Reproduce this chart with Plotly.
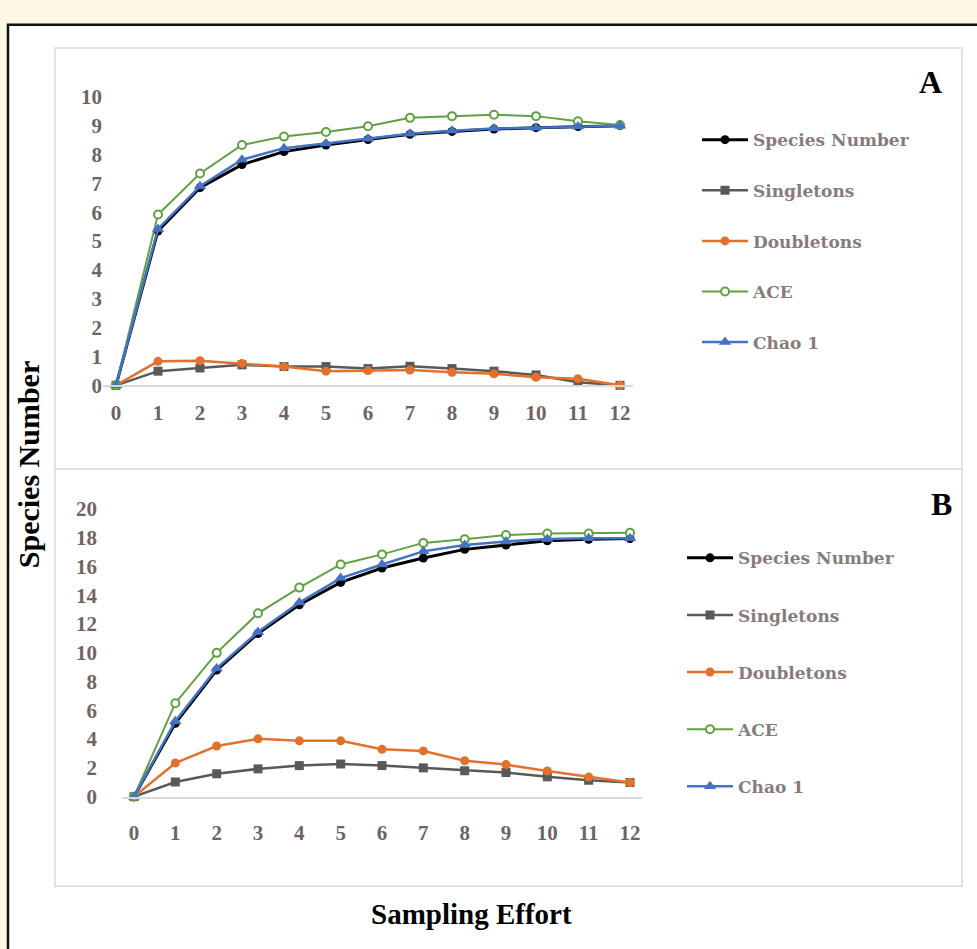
import plotly.graph_objects as go

W, H = 977, 949

effort = list(range(13))
tick_labels = [str(i) for i in effort]

series_names = ["Species Number", "Singletons", "Doubletons", "ACE", "Chao 1"]

# Panel A
a_species = [0, 5.35, 6.85, 7.65, 8.1, 8.33, 8.52, 8.7, 8.8, 8.88, 8.93, 8.97, 9.0]
a_single = [0, 0.49, 0.6, 0.71, 0.65, 0.65, 0.58, 0.66, 0.58, 0.49, 0.36, 0.11, 0]
a_double = [0, 0.83, 0.85, 0.76, 0.65, 0.49, 0.51, 0.53, 0.45, 0.4, 0.28, 0.23, 0]
a_ace = [0, 5.92, 7.34, 8.33, 8.62, 8.78, 8.98, 9.27, 9.33, 9.38, 9.33, 9.15, 9.02]
a_chao = [0, 5.42, 6.9, 7.82, 8.22, 8.38, 8.55, 8.72, 8.82, 8.9, 8.93, 8.97, 9.0]

# Panel B
b_species = [0, 5.1, 8.8, 11.35, 13.35, 14.9, 15.9, 16.6, 17.2, 17.5, 17.8, 17.9, 17.95]
b_single = [0, 1.02, 1.59, 1.93, 2.16, 2.27, 2.16, 2.0, 1.8, 1.68, 1.38, 1.14, 0.98]
b_double = [0, 2.34, 3.52, 4.02, 3.88, 3.88, 3.3, 3.18, 2.5, 2.23, 1.78, 1.36, 0.98]
b_ace = [0, 6.5, 10.0, 12.75, 14.54, 16.15, 16.85, 17.65, 17.9, 18.2, 18.3, 18.3, 18.35]
b_chao = [0, 5.25, 8.92, 11.45, 13.5, 15.2, 16.15, 17.06, 17.5, 17.75, 17.92, 17.98, 17.98]

panel_a = [a_species, a_single, a_double, a_ace, a_chao]
panel_b = [b_species, b_single, b_double, b_ace, b_chao]

styles = [
    dict(line=dict(color="#000000", width=3), marker=dict(symbol="circle", size=9, color="#000000")),
    dict(line=dict(color="#595959", width=2.5), marker=dict(symbol="square", size=9, color="#595959")),
    dict(line=dict(color="#E2712B", width=2.5), marker=dict(symbol="circle", size=9, color="#E2712B")),
    dict(line=dict(color="#62A044", width=2), marker=dict(symbol="circle", size=8, color="#FFFFFF",
                                                         line=dict(color="#62A044", width=2))),
    dict(line=dict(color="#4472C4", width=2.5), marker=dict(symbol="triangle-up", size=11, color="#4472C4")),
]


def px(p):
    return p / W


def py(p):
    return 1 - p / H


fig = go.Figure()

for panel, (xa, ya, leg) in zip([panel_a, panel_b], [("x", "y", "legend"), ("x2", "y2", "legend2")]):
    for i, (name, vals) in enumerate(zip(series_names, panel)):
        fig.add_trace(go.Scatter(
            x=effort, y=vals, name=name, mode="lines+markers",
            xaxis=xa, yaxis=ya, legend=leg, legendgroup=f"{leg}{i}",
            cliponaxis=False, **styles[i]))

tick_font = dict(family="Liberation Serif", size=21, color="#6f6363", weight="bold")
leg_font = dict(family="DejaVu Serif", size=17, color="#877b7b", weight="bold")

# Panel A geometry (pixels)
ax0, ax12, ay0, ay10 = 116, 620, 383, 87
ua = (ax12 - ax0) / 12
# Panel B geometry
bx0, bx12, by0, by20 = 134, 630, 805, 510
ub = (bx12 - bx0) / 12
pad = 0.3

fig.update_layout(
    width=W, height=H,
    margin=dict(l=0, r=0, t=0, b=0),
    paper_bgcolor="#FFF7E3",
    plot_bgcolor="rgba(0,0,0,0)",
    showlegend=True,
    xaxis=dict(domain=[px(ax0 - pad * ua), px(ax12 + pad * ua)], range=[-pad, 12 + pad],
               anchor="y", tickvals=effort, ticktext=tick_labels, showgrid=False, zeroline=False,
               showline=True, linecolor="#D9D9D9", linewidth=1.5, ticks="", ticklabelstandoff=8,
               tickfont=tick_font),
    yaxis=dict(domain=[py(ay0), py(ay10)], range=[0, 10], dtick=1, anchor="free", position=px(102),
               showgrid=False, zeroline=False, showline=False, ticks="", tickfont=tick_font),
    xaxis2=dict(domain=[px(bx0 - pad * ub), px(bx12 + pad * ub)], range=[-pad, 12 + pad],
                anchor="y2", tickvals=effort, ticktext=tick_labels, showgrid=False, zeroline=False,
                showline=True, linecolor="#D9D9D9", linewidth=1.5, ticks="", ticklabelstandoff=16,
                tickfont=tick_font),
    yaxis2=dict(domain=[py(by0), py(by20)], range=[0, 20], dtick=2, anchor="free", position=px(97),
                showgrid=False, zeroline=False, showline=False, ticks="", tickfont=tick_font),
    legend=dict(x=px(697), y=py(113), xanchor="left", yanchor="top", bgcolor="rgba(0,0,0,0)",
                font=leg_font, tracegroupgap=25.5, itemwidth=46),
    legend2=dict(x=px(682), y=py(542), xanchor="left", yanchor="top", bgcolor="rgba(0,0,0,0)",
                 font=leg_font, tracegroupgap=32, itemwidth=46),
    shapes=[
        dict(type="rect", xref="paper", yref="paper", x0=px(8), x1=px(1200), y0=py(1200), y1=py(13),
             line=dict(color="#111111", width=2.5), fillcolor="#FFFFFF", layer="below"),
        dict(type="rect", xref="paper", yref="paper", x0=px(55), x1=px(962), y0=py(469), y1=py(37),
             line=dict(color="#DADADA", width=1.5), layer="below"),
        dict(type="rect", xref="paper", yref="paper", x0=px(55), x1=px(962), y0=py(897), y1=py(469),
             line=dict(color="#DADADA", width=1.5), layer="below"),
    ],
    annotations=[
        dict(text="<b>A</b>", x=px(930), y=py(72), xref="paper", yref="paper", showarrow=False,
             xanchor="center", yanchor="middle",
             font=dict(family="Liberation Serif", size=32, color="#000000")),
        dict(text="<b>B</b>", x=px(941), y=py(505), xref="paper", yref="paper", showarrow=False,
             xanchor="center", yanchor="middle",
             font=dict(family="Liberation Serif", size=32, color="#000000")),
        dict(text="<b>Species Number</b>", x=px(28), y=py(465), xref="paper", yref="paper",
             showarrow=False, textangle=-90, xanchor="center", yanchor="middle",
             font=dict(family="Liberation Serif", size=30, color="#000000")),
        dict(text="<b>Sampling Effort</b>", x=px(471), y=py(925), xref="paper", yref="paper",
             showarrow=False, xanchor="center", yanchor="middle",
             font=dict(family="Liberation Serif", size=29, color="#000000")),
    ],
)

fig.write_html("out.html")
